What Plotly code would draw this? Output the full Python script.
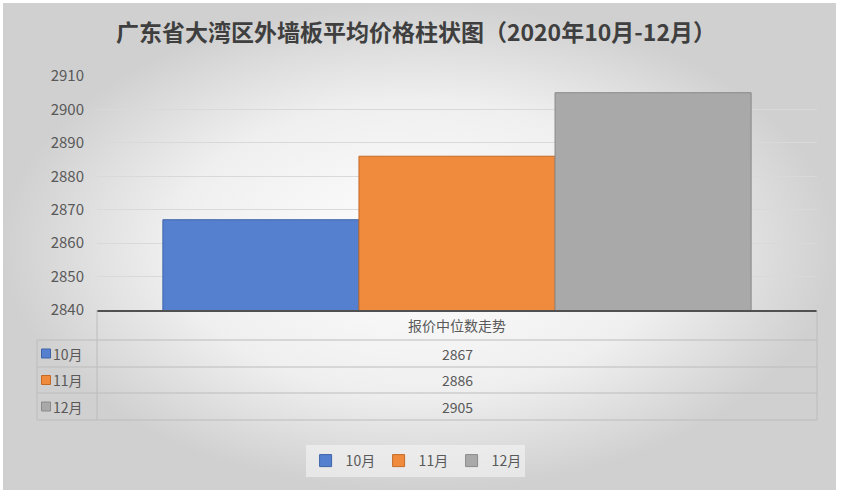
import plotly.graph_objects as go

# data
category = "报价中位数走势"
months = ["10月", "11月", "12月"]
prices = [2867, 2886, 2905]
colors = ["#5580d0", "#f08a3c", "#a9a9a9"]
edge_colors = ["#3e63a8", "#c46a26", "#8a8a8a"]
title = "广东省大湾区外墙板平均价格柱状图（2020年10月-12月）"

W, H = 842, 494
FONT = "Noto Sans CJK SC"

# plot area in pixels
left, right = 97, 817
top, bottom = 76, 310
table_left = 37
row_lines = [340, 367, 393, 420]


def px_x(v):
    return v / W


def px_y(v):
    return 1 - v / H


fig = go.Figure()

# chart background with a radial gradient (full-paper helper axes)
fig.add_trace(go.Scatter(
    x=[3, 836, 836, 3, 3], y=[3, 3, 490, 490, 3],
    mode="lines", line=dict(width=0), fill="toself",
    fillgradient=dict(type="radial",
                      colorscale=[[0, "#ffffff"], [0.6, "#efefef"], [1, "#d0d0d0"]]),
    hoverinfo="skip", showlegend=False, xaxis="x", yaxis="y",
))

# bars
for m, p, c, e in zip(months, prices, colors, edge_colors):
    fig.add_trace(go.Bar(
        x=[category], y=[p], name=m,
        marker=dict(color=c, line=dict(color=e, width=1)),
        xaxis="x2", yaxis="y2",
    ))

# legend keys inside the data table
row_mid = [(a + b) / 2 for a, b in zip(row_lines[:-1], row_lines[1:])]
fig.add_trace(go.Scatter(
    x=[46] * len(months), y=row_mid, mode="markers",
    marker=dict(symbol="square", size=9, color=colors, line=dict(color=edge_colors, width=1)),
    hoverinfo="skip", showlegend=False, xaxis="x", yaxis="y",
))

# data table lines
line_style = dict(color="#bcbcbc", width=1)
shapes = []
for yl in row_lines:
    shapes.append(dict(type="line", xref="x", yref="y",
                       x0=table_left, x1=right, y0=yl, y1=yl, line=line_style))
for xl, y0 in [(left, bottom), (right, bottom), (table_left, row_lines[0])]:
    shapes.append(dict(type="line", xref="x", yref="y",
                       x0=xl, x1=xl, y0=y0, y1=row_lines[-1], line=line_style))

# data table text
text_font = dict(family=FONT, size=14, color="#595959")
mid_x = (left + right) / 2
annotations = [dict(text=category, x=mid_x, y=(bottom + row_lines[0]) / 2,
                    xref="x", yref="y", xanchor="center", yanchor="middle",
                    showarrow=False, font=text_font)]
for m, p, ym in zip(months, prices, row_mid):
    annotations.append(dict(text=m, x=51, y=ym, xref="x", yref="y",
                            xanchor="left", yanchor="middle", showarrow=False, font=text_font))
    annotations.append(dict(text=str(p), x=mid_x, y=ym, xref="x", yref="y",
                            xanchor="center", yanchor="middle", showarrow=False, font=text_font))

fig.update_layout(
    width=W, height=H,
    margin=dict(l=0, r=0, t=0, b=0, pad=0),
    paper_bgcolor="white", plot_bgcolor="rgba(0,0,0,0)",
    font=dict(family=FONT, color="#595959"),
    title=dict(text=title, x=0.494, xanchor="center", y=px_y(33), yanchor="middle",
               automargin=False,
               font=dict(family=FONT, size=23, color="#3f3f3f", weight="bold")),
    barmode="group", bargap=0.183, bargroupgap=0,
    xaxis=dict(domain=[0, 1], range=[0, W], visible=False, fixedrange=True, automargin=False),
    yaxis=dict(domain=[0, 1], range=[H, 0], visible=False, fixedrange=True, automargin=False),
    xaxis2=dict(domain=[px_x(left), px_x(right)], anchor="y2", showticklabels=False,
                showline=True, linecolor="#505050", linewidth=2, showgrid=False,
                automargin=False, fixedrange=True),
    yaxis2=dict(domain=[px_y(bottom), px_y(top)], anchor="x2", range=[2840, 2910], dtick=10,
                showgrid=True, gridcolor="#d9d9d9", gridwidth=1, zeroline=False,
                ticks="", ticklabelstandoff=12, automargin=False, fixedrange=True,
                tickfont=dict(family=FONT, size=15, color="#595959")),
    legend=dict(orientation="h", x=0.493, xanchor="center", y=px_y(461), yanchor="middle",
                bgcolor="rgba(245,245,245,0.6)", font=dict(family=FONT, size=14, color="#595959"),
                entrywidth=28, itemclick=False),
    shapes=shapes,
    annotations=annotations,
)

fig.write_html("out.html", config={"displayModeBar": False},
               post_script="document.body.style.margin='0';")
